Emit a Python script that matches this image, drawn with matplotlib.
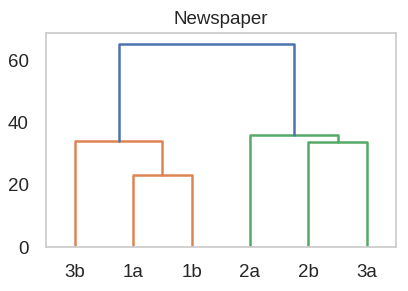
import matplotlib
matplotlib.use("Agg")
import matplotlib.pyplot as plt
import seaborn as sns

# leaf order as drawn, left to right
leaves = ["3b", "1a", "1b", "2a", "2b", "3a"]
# merges: (left child, right child, height); children are leaf names or merge indices
merges = [
    ("1a", "1b", 23.1),
    ("3b", 0, 34.1),
    ("2b", "3a", 33.8),
    ("2a", 2, 36.0),
    (1, 3, 65.0),
]
merge_colors = ["#DD8452", "#DD8452", "#55A868", "#55A868", "#4C72B0"]

sns.set_theme(style="whitegrid", context="notebook")
plt.rcParams["font.family"] = ["Liberation Sans", "DejaVu Sans"]

fig = plt.figure(figsize=(4.08, 2.91), dpi=100)
ax = fig.add_axes([45.5 / 408, 44 / 291, 350.5 / 408, 213.7 / 291])

xpos = {name: 5 + 10 * i for i, name in enumerate(leaves)}
ypos = {name: 0.0 for name in leaves}
for i, (a, b, h) in enumerate(merges):
    xa, xb = xpos[a], xpos[b]
    ya, yb = ypos[a], ypos[b]
    ax.plot([xa, xa, xb, xb], [ya, h, h, yb], color=merge_colors[i], lw=1.8)
    xpos[i] = (xa + xb) / 2
    ypos[i] = h

ax.set_xlim(0, 10 * len(leaves))
ax.set_ylim(0, max(m[2] for m in merges) * 1.055)
ax.set_xticks([5 + 10 * i for i in range(len(leaves))])
ax.set_xticklabels(leaves)
ax.set_yticks([0, 20, 40, 60])
ax.grid(False)
ax.tick_params(labelsize=13.5, pad=6)
ax.set_title("Newspaper", fontsize=13.5, pad=7)

fig.savefig("out.png", dpi=100)
